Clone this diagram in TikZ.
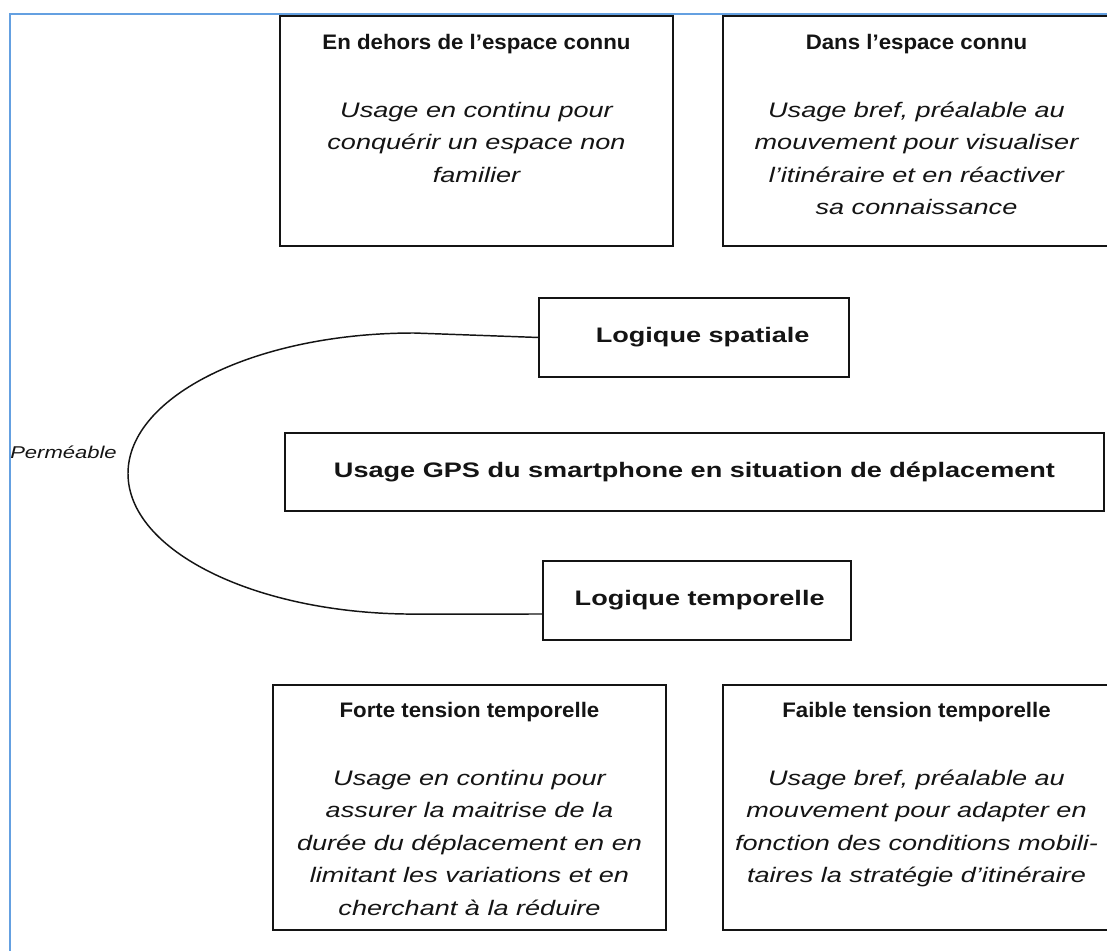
\documentclass[tikz,border=0pt]{standalone}
\usepackage{fontspec}
\setmainfont{Liberation Sans}
\usepackage{graphicx}
\usetikzlibrary{calc}
\definecolor{frameblue}{RGB}{100,160,225}
\definecolor{ink}{RGB}{20,20,20}
\newcommand\hstretch[1]{\scalebox{1.29}[1]{#1}}
\newcommand\tstretch[1]{\scalebox{1.06}[1]{#1}}
\newcommand\bodylines[1]{\hstretch{\begin{tabular}{@{}c@{}}#1\end{tabular}}}
\begin{document}
\begin{tikzpicture}[x=0.75pt,y=-0.75pt,
  box/.style={draw=ink, line width=1.6pt, inner sep=0pt, outer sep=0pt},
  titletxt/.style={anchor=base, inner sep=0pt, font=\fontsize{15.75}{19}\selectfont\bfseries, text=ink},
  bodytxt/.style={anchor=north, inner sep=0pt, font=\fontsize{15.75}{24.4}\selectfont\itshape, text=ink},
  midbox/.style={box, font=\fontsize{15.75}{19}\selectfont\bfseries, text=ink},
  conn/.style={draw=ink, line width=1.1pt}]
\fill[white] (0,0) rectangle (1107,950);
\useasboundingbox (0,0) rectangle (1107,950);
\draw[frameblue, line width=1.5pt] (10,952) -- (10,14) -- (1109,14);

% top boxes
\node[box, minimum width=393*0.75pt, minimum height=230*0.75pt] (b1) at (476.5,131) {};
\node[titletxt] (b1t) at ($(b1.north)+(0,33)$) {\tstretch{En dehors de l’espace connu}};
\node[bodytxt] (b1b) at ($(b1.north)+(0,78)$) {\bodylines{Usage en continu pour\\conquérir un espace non\\familier}};

\node[box, minimum width=387*0.75pt, minimum height=230*0.75pt] (b2) at (916.5,131) {};
\node[titletxt] (b2t) at ($(b2.north)+(0,33)$) {\tstretch{Dans l’espace connu}};
\node[bodytxt] (b2b) at ($(b2.north)+(0,78)$) {\bodylines{Usage bref, préalable au\\mouvement pour visualiser\\l’itinéraire et en réactiver\\sa connaissance}};

% middle
\node[midbox, minimum width=310*0.75pt, minimum height=79*0.75pt] (sp) at (694,337.5) {\hspace*{13pt}\hstretch{Logique spatiale}};
\node[midbox, minimum width=819*0.75pt, minimum height=78*0.75pt] (gps) at (694.5,472) {\hstretch{Usage GPS du smartphone en situation de déplacement}};
\node[midbox, minimum width=308*0.75pt, minimum height=79*0.75pt] (tp) at (697,600.5) {\hspace*{4pt}\hstretch{Logique temporelle}};

\node[font=\fontsize{12.8}{15}\selectfont\itshape, text=ink, inner sep=0pt] (perm) at (63.5,452) {\hstretch{Perméable}};

\draw[conn] (sp.west) -- (414,333) arc[start angle=90, end angle=270, x radius=214.5pt, y radius=105.4pt] -- ($(tp.north west)+(0,53)$);

% bottom boxes
\node[box, minimum width=393*0.75pt, minimum height=245*0.75pt] (b3) at (469.5,807.5) {};
\node[titletxt] (b3t) at ($(b3.north)+(0,32)$) {\tstretch{Forte tension temporelle}};
\node[bodytxt] (b3b) at ($(b3.north)+(0,77)$) {\bodylines{Usage en continu pour\\assurer la maitrise de la\\durée du déplacement en en\\limitant les variations et en\\cherchant à la réduire}};

\node[box, minimum width=387*0.75pt, minimum height=245*0.75pt] (b4) at (916.5,807.5) {};
\node[titletxt] (b4t) at ($(b4.north)+(0,32)$) {\tstretch{Faible tension temporelle}};
\node[bodytxt] (b4b) at ($(b4.north)+(0,77)$) {\bodylines{Usage bref, préalable au\\mouvement pour adapter en\\fonction des conditions mobili-\\taires la stratégie d’itinéraire}};
\end{tikzpicture}
\end{document}
